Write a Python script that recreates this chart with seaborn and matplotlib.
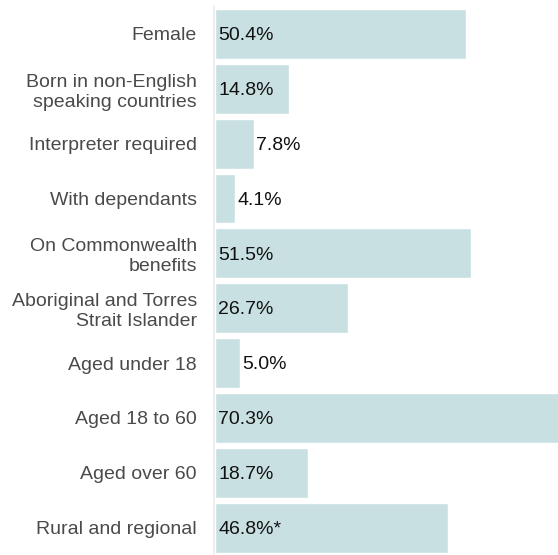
import matplotlib
matplotlib.use("Agg")
import matplotlib.pyplot as plt
import seaborn as sns

# data
categories = [
    "Female",
    "Born in non-English\nspeaking countries",
    "Interpreter required",
    "With dependants",
    "On Commonwealth\nbenefits",
    "Aboriginal and Torres\nStrait Islander",
    "Aged under 18",
    "Aged 18 to 60",
    "Aged over 60",
    "Rural and regional",
]
percentages = [50.4, 14.8, 7.8, 4.1, 51.5, 26.7, 5.0, 70.3, 18.7, 46.8]
value_labels = ["50.4%", "14.8%", "7.8%", "4.1%", "51.5%", "26.7%",
                "5.0%", "70.3%", "18.7%", "46.8%*"]

sns.set_theme(style="white")
plt.rcParams["font.family"] = ["Liberation Sans", "DejaVu Sans"]

fig = plt.figure(figsize=(5.58, 5.55), dpi=100)
ax = fig.add_axes([213.5 / 558, 0.0, 1 - 213.5 / 558, 1 - 6.5 / 555])

sns.barplot(x=percentages, y=categories, orient="h", color="#c9e0e2",
            saturation=1, width=0.91, ax=ax)

ax.set_xlim(-0.3, 69.0)
ax.set_ylim(9.5, -0.5)
ax.set_xticks([])
ax.set_xlabel("")
ax.tick_params(axis="y", length=0, pad=12, labelsize=14.0, labelcolor="#4a4a4a")
for lbl in ax.get_yticklabels():
    lbl.set_horizontalalignment("right")
    lbl.set_linespacing(1.22)

for s in ["top", "right", "bottom"]:
    ax.spines[s].set_visible(False)
ax.spines["left"].set_color("#ebebeb")
ax.spines["left"].set_linewidth(1.2)

# value labels: inside the bar when it is wide enough, otherwise just after it
for i, (v, txt) in enumerate(zip(percentages, value_labels)):
    if v < 10:
        ax.annotate(txt, (v, i), xytext=(1.5, -1.3), textcoords="offset points",
                    va="center", ha="left", fontsize=14.0, color="#111111")
    else:
        ax.annotate(txt, (0, i), xytext=(2.5, -1.3), textcoords="offset points",
                    va="center", ha="left", fontsize=14.0, color="#111111")

fig.savefig("out.png", dpi=100)
